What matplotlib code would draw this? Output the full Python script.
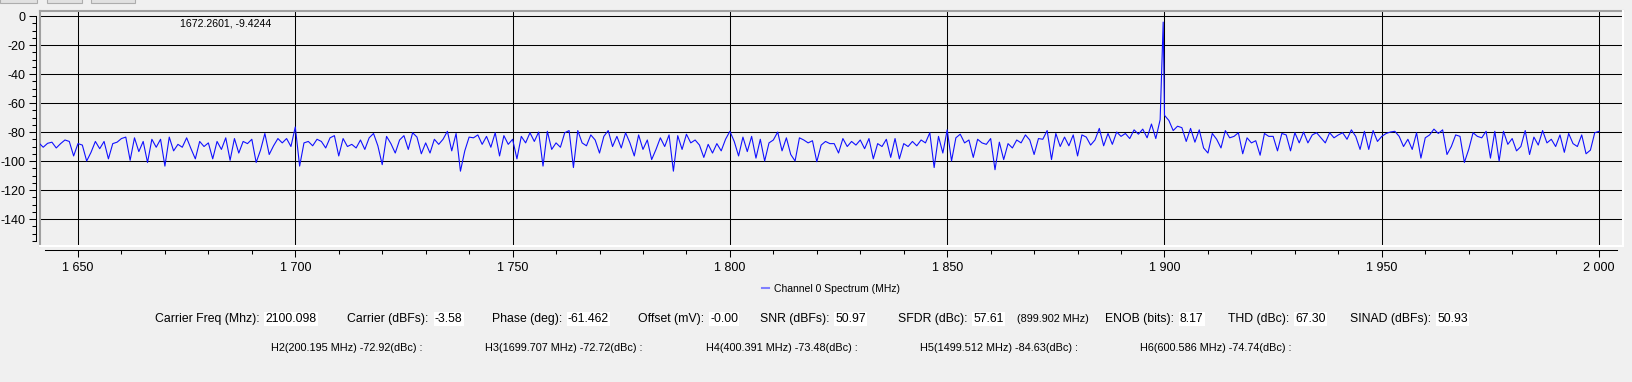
import numpy as np
import matplotlib
matplotlib.use("Agg")
import matplotlib.pyplot as plt
from matplotlib import font_manager
from matplotlib.lines import Line2D
from matplotlib.patches import Rectangle
from matplotlib.ticker import MultipleLocator, FuncFormatter

# spectrum levels (dBFs), one value per MHz from 1641 to 2000 MHz
F_START = 1641
F_STEP = 1.0
level_db = [
    -87.5, -90.5, -87.8, -87, -91, -88, -85.5, -86.5, -96.5, -88,
    -89, -100, -94, -86.5, -91.5, -86.5, -98.5, -88, -87, -84.5,
    -83.5, -99.5, -84, -93.5, -86.5, -101, -85, -90.5, -85, -103.5,
    -83.5, -93, -88.5, -90.5, -84, -91.5, -98.5, -86.5, -90, -87.5,
    -98.5, -86.5, -92, -84, -99.5, -84.5, -94.5, -86.5, -88, -85,
    -101, -92.5, -81, -95.5, -89.5, -84.5, -87.5, -84.5, -90, -76.5,
    -103.5, -87.5, -86.5, -89.5, -85, -86.5, -91, -84, -82.5, -96.5,
    -84.5, -90, -88.5, -91, -85.5, -92, -84, -81, -89.5, -102.5,
    -83, -88, -94.5, -85.5, -82.5, -92, -80.5, -83.5, -95, -87.5,
    -94.5, -85, -88.5, -85, -79.5, -93, -81, -107, -93, -83.5,
    -84, -82, -88.5, -83, -90.5, -80.5, -96.5, -82.5, -88.5, -85,
    -98.5, -83, -87.5, -80.5, -86.5, -80, -103.5, -79.5, -92, -87.5,
    -90.5, -80.5, -79, -104.5, -79, -87.5, -89.5, -82, -85.5, -94.5,
    -83, -79, -90, -83, -91, -80.5, -87.5, -96.5, -82, -92,
    -85.5, -99, -92, -84, -90, -82, -107, -82.5, -92, -81.5,
    -87.5, -85.5, -89, -97.5, -88.5, -94.5, -88, -93, -85, -79.5,
    -86.5, -96.5, -83.5, -93.5, -83, -98, -85, -100, -87.5, -85.5,
    -80, -93, -84, -95.5, -100, -84, -85.5, -87.5, -86, -100.5,
    -89, -86.5, -88, -88, -94.5, -84.5, -90, -86.5, -89, -85.5,
    -91.5, -84.5, -98.5, -88, -90, -85, -97.5, -84.5, -98.5, -88,
    -90, -86.5, -89.5, -85.5, -87.5, -80.5, -104.5, -83, -94.5, -78.5,
    -100, -84, -81.5, -87.5, -85.5, -97.5, -85, -87.5, -88.5, -84.5,
    -106, -87, -99, -88, -91, -85.5, -87.5, -82, -85.5, -95.5,
    -84.5, -85, -79, -99, -81, -90, -83.5, -89.5, -82, -96.5,
    -82, -83.5, -89, -85.5, -77.5, -89.5, -81, -88.5, -80, -83,
    -81, -84.5, -78.5, -81.5, -78, -84, -74.5, -84.5, -71.5, -68.5,
    -72, -79, -76, -77, -86.5, -77.5, -87, -78.5, -91, -94.5,
    -81, -85, -91, -79, -84, -83, -80.5, -95, -84, -87.5,
    -86, -96, -81, -83, -83, -93, -81, -82, -93, -80.5,
    -87.5, -80, -87.5, -82, -80.5, -84, -87.5, -80.5, -84, -82,
    -80.5, -85, -78.5, -83, -92, -79.5, -92, -79, -86.5, -83,
    -81, -80, -79.5, -83, -90, -85, -92, -80.5, -98, -84,
    -82, -78, -81, -78.5, -95.5, -90, -82, -83, -101, -92,
    -80.5, -83, -84, -79.5, -98, -79.5, -100, -79.5, -88.5, -84.5,
    -93, -90, -79, -95.5, -83.5, -89, -79, -87.5, -85, -90,
    -82, -94, -81, -88, -90, -82, -95, -92.5, -80.5, -79.5,
]
carrier_mhz = [1899.7]
carrier_db = [-4.2]

cursor_text = "1672.2601, -9.4244"
legend_label = "Channel 0 Spectrum (MHz)"

metric_names = ["Carrier Freq (Mhz):", "Carrier (dBFs):", "Phase (deg):", "Offset (mV):",
                "SNR (dBFs):", "SFDR (dBc):", "ENOB (bits):", "THD (dBc):", "SINAD (dBFs):"]
metric_values = ["2100.098", "-3.58", "-61.462", "-0.00", "50.97", "57.61", "8.17", "67.30", "50.93"]
sfdr_spur = "(899.902 MHz)"

harm_names = ["H2", "H3", "H4", "H5", "H6"]
harm_freqs = ["200.195", "1699.707", "400.391", "1499.512", "600.586"]
harm_dbc = ["-72.92", "-72.72", "-73.48", "-84.63", "-74.74"]

# ---- layout (pixels of the 1633x382 image)
W, H = 1633, 382
BG = "#f0f0f0"

def fx(px):
    return px / W

def fy(py):
    return 1 - py / H

installed = {f.name for f in font_manager.fontManager.ttflist}
main_font = "Liberation Sans"
narrow_font = "Liberation Sans Narrow" if "Liberation Sans Narrow" in installed else main_font
narrow_size = 8.6 if narrow_font != main_font else 7.8

plt.rcParams["font.family"] = [main_font, "DejaVu Sans"]
plt.rcParams["axes.unicode_minus"] = False

fig = plt.figure(figsize=(W / 100, H / 100), dpi=100, facecolor=BG)
ax = fig.add_axes([fx(40), fy(246), fx(1623) - fx(40), fy(11) - fy(246)])
ax.set_facecolor(BG)

freqs = F_START + F_STEP * np.arange(len(level_db))
all_f = np.concatenate([freqs, carrier_mhz])
all_db = np.concatenate([level_db, carrier_db])
order = np.argsort(all_f)
ax.plot(all_f[order], all_db[order], color="#1010ff", lw=0.8, zorder=3)

ax.xaxis.set_major_locator(MultipleLocator(50))
ax.xaxis.set_minor_locator(MultipleLocator(10))
ax.yaxis.set_major_locator(MultipleLocator(20))
ax.yaxis.set_minor_locator(MultipleLocator(5))
ax.xaxis.set_major_formatter(FuncFormatter(lambda v, p: f"{int(round(v)):,}".replace(",", " ")))
ax.yaxis.set_major_formatter(FuncFormatter(lambda v, p: f"{int(round(v))}"))

ax.grid(True, which="major", color="black", lw=0.75, zorder=1)
ax.set_axisbelow(True)

for s in ["top", "right"]:
    ax.spines[s].set_visible(False)
for s in ["left", "bottom"]:
    ax.spines[s].set_position(("outward", 2.9))
    ax.spines[s].set_linewidth(0.75)
ax.spines["left"].set_bounds(-155, 0)
ax.spines["bottom"].set_bounds(1642.4, 2004.1)

ax.tick_params(which="major", length=4.8, width=0.75, direction="out", labelsize=9, pad=2.5)
ax.tick_params(which="minor", length=3, width=0.75, direction="out")
ax.tick_params(axis="x", pad=3.5)

# sunken frame round the plot area
ax.add_line(Line2D([0, 0], [0, 1], transform=ax.transAxes, color="#a0a0a0", lw=1.5, clip_on=False))
ax.add_line(Line2D([0, 1], [1, 1], transform=ax.transAxes, color="#a0a0a0", lw=1.5, clip_on=False))
ax.add_line(Line2D([1, 1], [0, 1], transform=ax.transAxes, color="white", lw=1.5, clip_on=False))
ax.add_line(Line2D([0, 1], [0, 0], transform=ax.transAxes, color="white", lw=1.5, clip_on=False))

ax.set_xlim(1641.26, 2005.5)
ax.set_ylim(-158.6, 3.45)

# cursor readout
fig.text(fx(180), fy(24), cursor_text, fontsize=7.6, ha="left", va="center")

# legend
handle = Line2D([], [], color="#7f7fff", lw=1.5)
fig.legend([handle], [legend_label], loc="center", bbox_to_anchor=(fx(831), fy(289)),
           frameon=False, fontsize=7.5, handlelength=0.7, handletextpad=0.5)

# tabs of the toolbar peeking in at the top
for x0, x1 in [(0, 37), (47, 82), (91, 135)]:
    fig.patches.append(Rectangle((fx(x0), fy(3)), fx(x1) - fx(x0), fy(-2) - fy(3),
                                 transform=fig.transFigure, fc="#e1e1e1", ec="#adadad", lw=0.8))

# metrics row: label, then its value in a white box just after it
label_x = [154.6, 347.4, 491.6, 638, 760, 897.8, 1105, 1228.5, 1350]
row1_y, row2_y = 319, 348
for name, val, lx in zip(metric_names, metric_values, label_x):
    lab = fig.text(fx(lx), fy(row1_y), name, fontsize=8.8, ha="left", va="center")
    ax.annotate(val, xy=(1, 0.5), xycoords=lab, xytext=(4.3, 0), textcoords="offset points",
                fontsize=8.8, ha="left", va="center", annotation_clip=False,
                bbox=dict(boxstyle="square,pad=0.1", fc="white", ec="none"))
fig.text(fx(1017), fy(row1_y), sfdr_spur, fontsize=narrow_size, ha="left", va="center",
         family=[narrow_font, "DejaVu Sans"])

# harmonics row
harm_x = [270.6, 485, 706, 920, 1140]
for name, f, lv, hx in zip(harm_names, harm_freqs, harm_dbc, harm_x):
    fig.text(fx(hx), fy(row2_y), f"{name}({f} MHz) {lv}(dBc) :", fontsize=narrow_size,
             ha="left", va="center", family=[narrow_font, "DejaVu Sans"])

fig.savefig("out.png", dpi=100, facecolor=BG)
